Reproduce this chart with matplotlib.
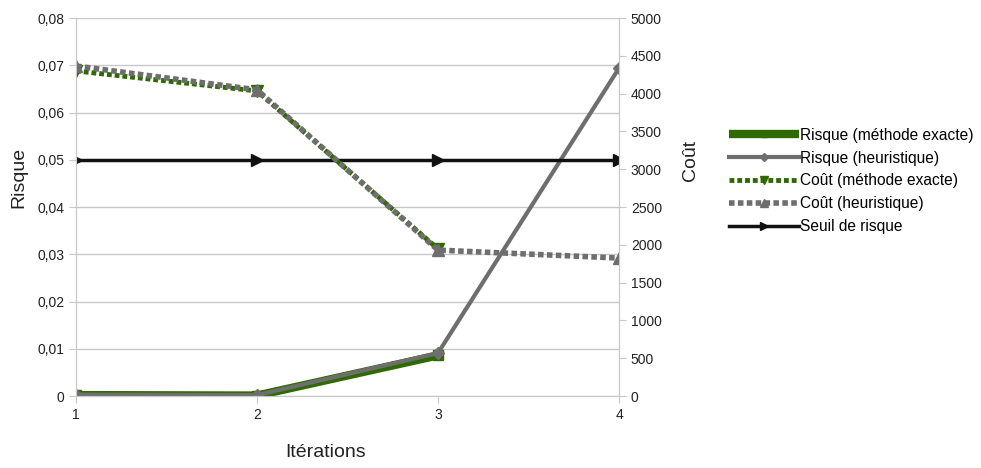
import numpy as np
import matplotlib.pyplot as plt

plt.rcParams['font.family'] = ['Liberation Sans', 'DejaVu Sans']

iterations = [1, 2, 3, 4]
risque_exacte = [0.0002, 0.0001, 0.0086]
risque_heur = [0.0003, 0.0002, 0.0091, 0.0694]
cout_exacte = [4300, 4035, 1945]
cout_heur = [4365, 4050, 1930, 1825]
seuil = [0.05, 0.05, 0.05, 0.05]

vert = '#2f6a00'
gris = '#6e6e6e'
grille = '#c8c8c8'

fig = plt.figure(figsize=(9.81, 4.68), dpi=100)
ax = fig.add_axes([0.0775, 0.1538, 0.5535, 0.8077])
ax2 = ax.twinx()

l1, = ax.plot(iterations[:3], risque_exacte, color=vert, lw=6, marker='s', ms=7,
              solid_capstyle='butt', label='Risque (méthode exacte)')
l2, = ax.plot(iterations, risque_heur, color=gris, lw=3, marker='D', ms=6,
              label='Risque (heuristique)')
l5, = ax.plot(iterations, seuil, color='#111111', lw=2.5, marker='>', ms=8,
              label='Seuil de risque')
l3, = ax2.plot(iterations[:3], cout_exacte, color=vert, lw=3.5, ls=(0, (1, 0.6)),
               marker='v', ms=8, label='Coût (méthode exacte)')
l4, = ax2.plot(iterations, cout_heur, color=gris, lw=4, ls=(0, (1, 0.6)),
               marker='^', ms=9, label='Coût (heuristique)')

ax.set_xlim(1, 4)
ax.set_ylim(0, 0.08)
ax2.set_ylim(0, 5000)
ax.set_xticks(iterations)
ax.set_yticks(np.arange(0, 0.081, 0.01))
ax.set_yticklabels(['0'] + ['0,0%d' % i for i in range(1, 9)])
ax2.set_yticks(np.arange(0, 5001, 500))

ax.grid(axis='y', color=grille, lw=1)
ax.set_axisbelow(True)
for a in (ax, ax2):
    for s in a.spines.values():
        s.set_color(grille)
    a.spines['top'].set_visible(False)
    a.tick_params(colors=grille, labelcolor='#222222', labelsize=10, length=5)

ax.set_xlabel('Itérations', fontsize=14, color='#222222')
ax.set_ylabel('Risque', fontsize=14, color='#222222')
ax2.set_ylabel('Coût', fontsize=14, color='#222222')
ax.xaxis.set_label_coords(0.46, -0.128)
ax.yaxis.set_label_coords(-0.09, 0.577)
ax2.yaxis.set_label_coords(1.116, 0.624)

fig.legend([l1, l2, l3, l4, l5], [h.get_label() for h in [l1, l2, l3, l4, l5]],
           loc='upper left', bbox_to_anchor=(0.737, 0.74), frameon=False,
           fontsize=11.2, handlelength=4.5, labelspacing=0.5, borderaxespad=0,
           handletextpad=0.05, markerscale=0.7)

fig.savefig('out.png', dpi=100)
